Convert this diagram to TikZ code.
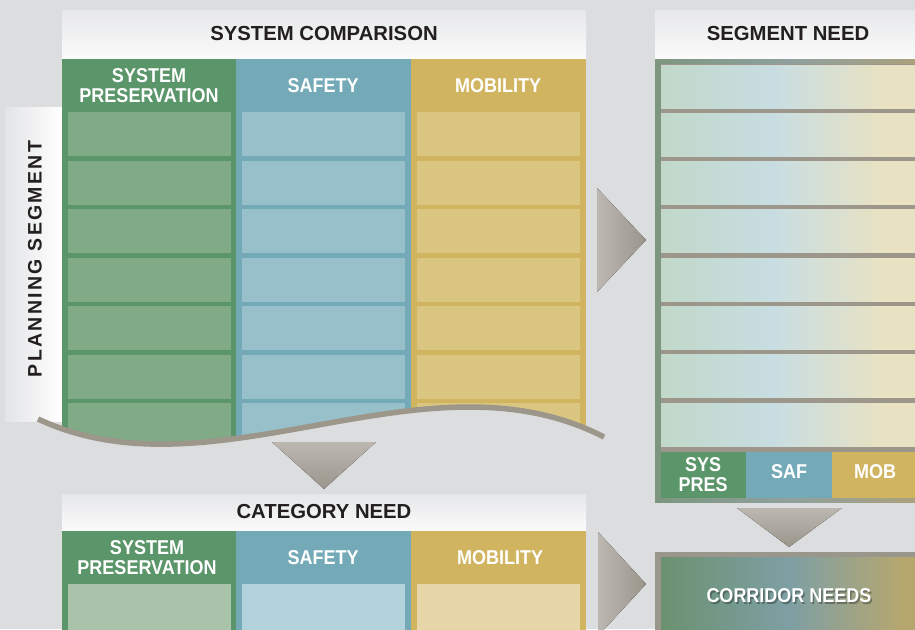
\documentclass[tikz,border=0pt]{standalone}
\usepackage{fontspec}
\setmainfont{Liberation Sans}
\newfontfamily\trackedfont{Liberation Sans}[LetterSpace=12]
\newfontfamily\condfont{Liberation Sans}[FakeStretch=0.9]
\definecolor{bgcol}{HTML}{DCDDDF}
\definecolor{hdrtop}{HTML}{E6E7E9}
\definecolor{hdrbot}{HTML}{FBFBFB}
\definecolor{plleft}{HTML}{E3E4E6}
\definecolor{txtdark}{HTML}{231F20}
\definecolor{spgreen}{HTML}{5B956A}
\definecolor{sfblue}{HTML}{74AAB8}
\definecolor{mbgold}{HTML}{D0B460}
\definecolor{spcell}{HTML}{81AB86}
\definecolor{sfcell}{HTML}{97C0CA}
\definecolor{mbcell}{HTML}{DAC681}
\definecolor{spcat}{HTML}{A8C3A9}
\definecolor{sfcat}{HTML}{B2D2DC}
\definecolor{mbcat}{HTML}{E6D6A8}
\definecolor{wavegray}{HTML}{9C968B}
\definecolor{arrowlight}{HTML}{BCB7B0}
\definecolor{arrowdark}{HTML}{9B968C}
\definecolor{corframe}{HTML}{99968C}
\definecolor{sgG}{HTML}{C1D8C9}
\definecolor{sgB}{HTML}{C8DDE2}
\definecolor{sgY}{HTML}{E8E2C3}
\definecolor{frG}{HTML}{7D967F}
\definecolor{frB}{HTML}{8FA09E}
\definecolor{frY}{HTML}{ACA17B}
\definecolor{crG}{HTML}{6A9270}
\definecolor{crB}{HTML}{7E9FA4}
\definecolor{crY}{HTML}{B6A76F}
\pgfdeclarehorizontalshading{segcell}{100bp}{color(0bp)=(sgG); color(25bp)=(sgG); color(47bp)=(sgB); color(68bp)=(sgY); color(100bp)=(sgY)}
\pgfdeclarehorizontalshading{segframe}{100bp}{color(0bp)=(frG); color(25bp)=(frG); color(50bp)=(frB); color(75bp)=(frY); color(100bp)=(frY)}
\pgfdeclarehorizontalshading{corshade}{100bp}{color(0bp)=(crG); color(25bp)=(crG); color(50bp)=(crB); color(72bp)=(crY); color(100bp)=(crY)}
\tikzset{
  hdrbox/.style={top color=hdrtop, bottom color=hdrbot},
  hdrtext/.style={font=\bfseries\fontsize{20.3}{24}\selectfont, text=txtdark, inner sep=0pt},
  coltext/.style={font=\condfont\bfseries\fontsize{20}{20}\selectfont, text=white, align=center, inner sep=0pt},
  plantext/.style={font=\trackedfont\bfseries\fontsize{19.5}{22}\selectfont, text=txtdark, inner sep=0pt},
  downtri/.style={top color=arrowlight, bottom color=arrowdark},
  righttri/.style={left color=arrowlight, right color=arrowdark}
}
\begin{document}
\begin{tikzpicture}[x=1pt,y=-1pt]
  % canvas
  \useasboundingbox (0,0) rectangle (915,629);
  \fill[bgcol] (0,0) rectangle (915,629);
  \clip (0,0) rectangle (915,629);

  % planning segment tab
  \fill[left color=plleft, right color=white] (5,107) rectangle (62,421);
  \node[plantext, rotate=90] (plan) at (35,259) {PLANNING SEGMENT};

  % system comparison
  \fill[hdrbox] (62,10) rectangle (586,59);
  \node[hdrtext] (cmp) at (324,34) {SYSTEM COMPARISON};
  \foreach \cx/\hc/\cc in {62/spgreen/spcell, 236/sfblue/sfcell, 411/mbgold/mbcell} {
    \fill[\hc] (\cx,59) rectangle ++(175,391);
    \foreach \i in {0,...,6}
      \fill[\cc] (\cx+6,112+48.5*\i) rectangle ++(163,44);
  }
  \node[coltext] (cmpsp) at (149,86) {SYSTEM\\PRESERVATION};
  \node[coltext] (cmpsf) at (323,86) {SAFETY};
  \node[coltext] (cmpmb) at (498,86) {MOBILITY};

  % wavy cut
  \fill[bgcol] (38,419) .. controls (215,502) and (425,345) .. (604,437) -- (604,475) -- (38,475) -- cycle;
  \draw[wavegray, line width=5.5pt] (38,419) .. controls (215,502) and (425,345) .. (604,437);

  % arrows
  \fill[downtri] (272,442) -- (376,442) -- (324,489) -- cycle;
  \fill[righttri] (597,188) -- (646,240) -- (597,292) -- cycle;
  \fill[righttri] (598,532) -- (646,584) -- (598,636) -- cycle;
  \fill[downtri] (737,508) -- (842,508) -- (789,547) -- cycle;

  % category need
  \fill[hdrbox] (62,494) rectangle (586,531);
  \node[hdrtext] (cat) at (324,512) {CATEGORY NEED};
  \foreach \cx/\hc/\cc in {62/spgreen/spcat, 236/sfblue/sfcat, 411/mbgold/mbcat} {
    \fill[\hc] (\cx,531) rectangle ++(175,110);
    \fill[\cc] (\cx+6,584) rectangle ++(163,60);
  }
  \node[coltext] (catsp) at (147,558) {SYSTEM\\PRESERVATION};
  \node[coltext] (catsf) at (323,558) {SAFETY};
  \node[coltext] (catmb) at (500,558) {MOBILITY};

  % segment need
  \fill[hdrbox] (655,10) rectangle (925,59);
  \node[hdrtext] (seg) at (788,34) {SEGMENT NEED};
  \shade[shading=segframe] (655,59) rectangle (923,502);
  \fill[wavegray] (661,64) rectangle (918,452);
  \foreach \i in {0,...,7}
    \shade[shading=segcell] (661,65+48.3*\i) rectangle ++(257,43);
  \fill[spgreen] (661,452) rectangle (746,498);
  \fill[sfblue] (746,452) rectangle (832,498);
  \fill[mbgold] (832,452) rectangle (918,498);
  \node[coltext] (legsp) at (703,475) {SYS\\PRES};
  \node[coltext] (legsf) at (789,472) {SAF};
  \node[coltext] (legmb) at (875,472) {MOB};

  % corridor needs
  \fill[corframe] (655,552) rectangle (923,640);
  \shade[shading=corshade] (661,557) rectangle (918,640);
  \node[coltext, text=black, opacity=.3] at (790.5,597.5) {CORRIDOR NEEDS};
  \node[coltext] (cor) at (789,596) {CORRIDOR NEEDS};
\end{tikzpicture}
\end{document}
